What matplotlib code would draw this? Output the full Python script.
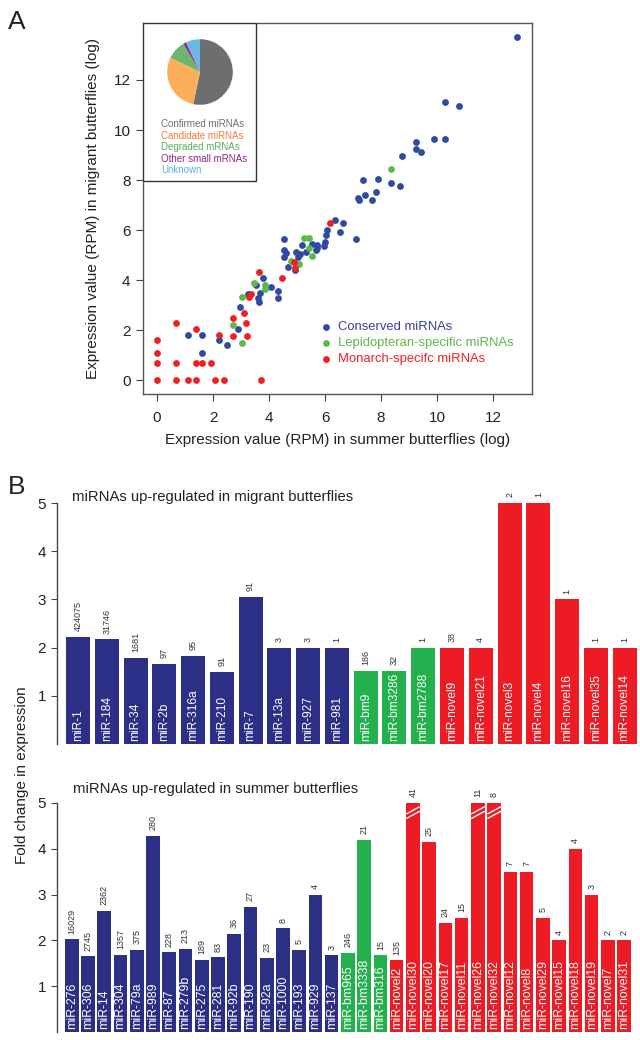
import matplotlib

matplotlib.use("Agg")
import matplotlib.pyplot as plt

plt.rcParams["font.family"] = ["Liberation Sans", "DejaVu Sans"]

W, H = 640, 1040

# --- panel A: scatter (log RPM, summer vs migrant) ---
cons_x = [1.09, 1.6, 1.61, 2.2, 2.49, 2.88, 2.95, 3.25, 3.55, 3.59, 3.63, 3.67, 3.77, 4.07,
          4.33, 4.32, 4.52, 4.55, 4.59, 4.52, 4.67, 4.91, 4.95, 5.04, 5.12, 5.17, 5.31, 5.55,
          5.71, 5.73, 5.68, 5.96, 5.99, 6.03, 6.07, 6.37, 6.52, 6.63, 7.11, 7.17, 7.22, 7.42,
          7.67, 7.83, 7.37, 7.89, 8.36, 8.67, 8.75, 9.25, 9.25, 9.43, 9.88, 10.3, 10.27, 10.8,
          12.86]
cons_y = [1.79, 1.79, 1.08, 1.59, 1.39, 2.06, 2.94, 3.45, 3.81, 3.30, 3.13, 3.49, 4.08, 3.73,
          3.58, 3.29, 5.63, 5.19, 5.07, 4.92, 4.53, 4.4, 5.12, 4.92, 5.03, 5.4, 5.12, 5.43,
          5.29, 5.4, 5.2, 5.37, 5.53, 5.79, 6.0, 6.4, 5.92, 6.26, 5.64, 7.28, 7.2, 7.4,
          7.19, 7.53, 7.99, 8.04, 7.89, 7.75, 8.96, 9.53, 9.25, 9.12, 9.65, 9.65, 11.11, 10.96,
          13.73]
lep_x = [3.04, 2.71, 3.04, 3.47, 3.87, 3.84, 4.77, 5.08, 5.24, 5.41, 5.41, 5.52, 8.35]
lep_y = [1.48, 2.19, 3.32, 3.89, 3.81, 3.65, 4.76, 4.65, 5.66, 5.68, 5.27, 4.96, 8.45]
mon_x = [0, 0, 0, 0, 0.69, 0.69, 0.69, 1.1, 1.39, 1.39, 1.39, 1.61, 1.93, 2.08, 2.4, 2.21,
         3.72, 2.71, 2.71, 3.09, 3.19, 3.21, 3.29, 3.37, 3.64, 4.47, 4.88, 4.91, 6.16]
mon_y = [0, 0.69, 1.1, 1.59, 0, 0.69, 2.3, 0, 0, 0.69, 2.06, 0.69, 0.69, 0, 0, 1.79,
         0, 2.49, 1.78, 2.7, 2.3, 1.78, 3.32, 3.45, 4.33, 4.08, 4.73, 4.49, 6.26]

pie_labels = ["Confirmed miRNAs", "Candidate miRNAs", "Degraded mRNAs", "Other small mRNAs", "Unknown"]
pie_share = [53.3, 28.9, 9.3, 1.5, 7.0]
pie_colors = ["#6d6e70", "#fbae5c", "#6cb56b", "#92278f", "#6ab8e6"]
pie_text_colors = ["#6d6e70", "#f47b3a", "#5fa85f", "#92278f", "#52b4e8"]

# --- panel B: fold change bars ---
mig_names = ["miR-1", "miR-184", "miR-34", "miR-2b", "miR-316a", "miR-210", "miR-7", "miR-13a",
             "miR-927", "miR-981", "miR-bm9", "miR-bm3286", "miR-bm2788", "miR-novel9",
             "miR-novel21", "miR-novel3", "miR-novel4", "miR-novel16", "miR-novel35", "miR-novel14"]
mig_fold = [2.23, 2.17, 1.79, 1.67, 1.83, 1.5, 3.06, 2, 2, 2, 1.52, 1.52, 2, 2, 2, 5, 5, 3, 2, 2]
mig_counts = ["424075", "31746", "1681", "97", "95", "91", "91", "3", "3", "1", "186", "32", "1",
              "38", "4", "2", "1", "1", "1", "1"]
mig_group = ["c"] * 10 + ["l"] * 3 + ["m"] * 7

sum_names = ["miR-276", "miR-306", "miR-14", "miR-304", "miR-79a", "miR-989", "miR-87", "miR-279b",
             "miR-275", "miR-281", "miR-92b", "miR-190", "miR-92a", "miR-1000", "miR-193", "miR-929",
             "miR-137", "miR-bm965", "miR-bm3338", "miR-bm316", "miR-novel2", "miR-novel30",
             "miR-novel20", "miR-novel17", "miR-novel11", "miR-novel26", "miR-novel32", "miR-novel12",
             "miR-novel8", "miR-novel29", "miR-novel15", "miR-novel18", "miR-novel19", "miR-novel7",
             "miR-novel31"]
sum_fold = [2.02, 1.65, 2.65, 1.69, 1.8, 4.28, 1.74, 1.82, 1.58, 1.63, 2.15, 2.74, 1.62, 2.26, 1.8,
            3.0, 1.68, 1.73, 4.2, 1.68, 1.57, 5, 4.15, 2.38, 2.5, 5, 5, 3.5, 3.5, 2.5, 2.0, 4.0,
            3.0, 2.0, 2.0]
sum_counts = ["16029", "2745", "2362", "1357", "375", "280", "228", "213", "189", "83", "36", "27",
              "23", "8", "5", "4", "3", "246", "21", "15", "135", "41", "25", "24", "15", "11", "8",
              "7", "7", "5", "4", "4", "3", "2", "2"]
sum_group = ["c"] * 17 + ["l"] * 3 + ["m"] * 15
sum_broken = ["miR-novel30", "miR-novel26", "miR-novel32"]

PT_COL = {"c": "#2f4a9e", "l": "#5cb947", "m": "#ee2024"}
BAR_COL = {"c": "#2b2f86", "l": "#22b14c", "m": "#ed1c24"}
TXT = "#222222"


def frac(l, t, r, b):
    return [l / W, 1 - b / H, (r - l) / W, (b - t) / H]


fig = plt.figure(figsize=(W / 100, H / 100), dpi=100)

# ---------------- A ----------------
ax = fig.add_axes(frac(143, 23, 532, 394))
ax.scatter(cons_x, cons_y, s=24, color=PT_COL["c"], linewidths=0, zorder=3)
ax.scatter(lep_x, lep_y, s=24, color=PT_COL["l"], linewidths=0, zorder=3)
ax.scatter(mon_x, mon_y, s=24, color=PT_COL["m"], linewidths=0, zorder=3)
ax.set_xlim(-0.5, 13.39)
ax.set_ylim(-0.56, 14.28)
ax.set_xticks(range(0, 13, 2))
ax.set_yticks(range(0, 13, 2))
for sp in ax.spines.values():
    sp.set_color("#555555")
    sp.set_linewidth(1.0)
ax.tick_params(direction="out", length=5, width=0.8, color="#444444", labelsize=11,
               labelcolor=TXT)
ax.tick_params(axis="x", pad=7)
ax.tick_params(axis="y", pad=4)
ax.set_xlabel("Expression value (RPM) in summer butterflies (log)", fontsize=11, color=TXT,
              labelpad=6)
ax.set_ylabel("Expression value (RPM) in migrant butterflies (log)", fontsize=11, color=TXT,
              labelpad=10)

leg = [("Conserved miRNAs", "c"), ("Lepidopteran-specific miRNAs", "l"),
       ("Monarch-specifc miRNAs", "m")]
for i, (lab, g) in enumerate(leg):
    yy = 0.1806 - i * 0.0431
    ax.scatter([0.47], [yy], s=24, color=PT_COL[g], linewidths=0, transform=ax.transAxes,
               clip_on=False)
    ax.text(0.50, yy, lab, color=PT_COL[g] if g != "c" else "#3a3f99", fontsize=9.4,
            va="center", ha="left", transform=ax.transAxes)

# inset box with pie
box_w, box_h = (256 - 143) / (532 - 143), (181 - 23) / (394 - 23)
ax.add_patch(plt.Rectangle((0, 1 - box_h), box_w, box_h, transform=ax.transAxes,
                           facecolor="white", edgecolor="#333333", lw=1.0, zorder=4))
pax = fig.add_axes(frac(159, 31, 241, 113))
pax.pie(pie_share, colors=pie_colors, startangle=90, counterclock=False,
        wedgeprops=dict(linewidth=0))
pax.set_aspect("equal")
for i, (lab, c) in enumerate(zip(pie_labels, pie_text_colors)):
    fig.text(161 / W, 1 - (124.3 + i * 11.5) / H, lab, color=c, fontsize=7, va="center",
             ha="left")

fig.text(8 / W, 1 - 22 / H, "A", fontsize=19, va="center", ha="left", color=TXT)
fig.text(8 / W, 1 - 487 / H, "B", fontsize=19, va="center", ha="left", color=TXT)


# ---------------- B ----------------
def bar_panel(rect, names, fold, counts, group, x0, name_fs, broken=()):
    bx = fig.add_axes(rect)
    pos = [0.7 + 1.2 * i for i in range(len(names))]
    cols = [BAR_COL[g] for g in group]
    bx.bar(pos, fold, width=1.0, color=cols, linewidth=0)
    bx.set_ylim(0, 5)
    bx.set_xlim(x0[0], x0[1])
    for s in ("top", "right", "bottom"):
        bx.spines[s].set_visible(False)
    bx.spines["left"].set_color("#444444")
    bx.spines["left"].set_linewidth(1.0)
    bx.set_xticks([])
    bx.set_yticks([1, 2, 3, 4, 5])
    bx.tick_params(axis="y", direction="out", length=4, width=0.8, color="#444444",
                   labelsize=11, labelcolor=TXT, pad=4)
    for p, v, n, c in zip(pos, fold, names, counts):
        bx.annotate(n, (p, 0), xytext=(0, 2.5), textcoords="offset points", rotation=90,
                    ha="center", va="bottom", color="white", fontsize=name_fs)
        bx.annotate(c, (p, v), xytext=(0, 4), textcoords="offset points", rotation=90,
                    ha="center", va="bottom", color="#333333", fontsize=6.5,
                    annotation_clip=False)
        if n in broken:
            for dy in (0.0, 0.1):
                bx.plot([p - 0.5, p + 0.5], [v - 0.34 + dy, v - 0.18 + dy], color="white",
                        lw=1.0, solid_capstyle="butt")
    return bx


bar_panel(frac(57, 503, 640, 744), mig_names, mig_fold, mig_counts, mig_group,
          (-0.175, 24.14), 8.6)
bar_panel(frac(57, 803, 640, 1032), sum_names, sum_fold, sum_counts, sum_group,
          (-0.391, 42.67), 8.8, sum_broken)

fig.text(72 / W, 1 - 497 / H, "miRNAs up-regulated in migrant butterflies", fontsize=10.7,
         color=TXT, va="center", ha="left")
fig.text(73 / W, 1 - 789 / H, "miRNAs up-regulated in summer butterflies", fontsize=10.7,
         color=TXT, va="center", ha="left")
fig.text(22 / W, 1 - 775 / H, "Fold change in expression", fontsize=11, color=TXT,
         rotation=90, va="center", ha="center")

fig.savefig("out.png", dpi=100, facecolor="white")
